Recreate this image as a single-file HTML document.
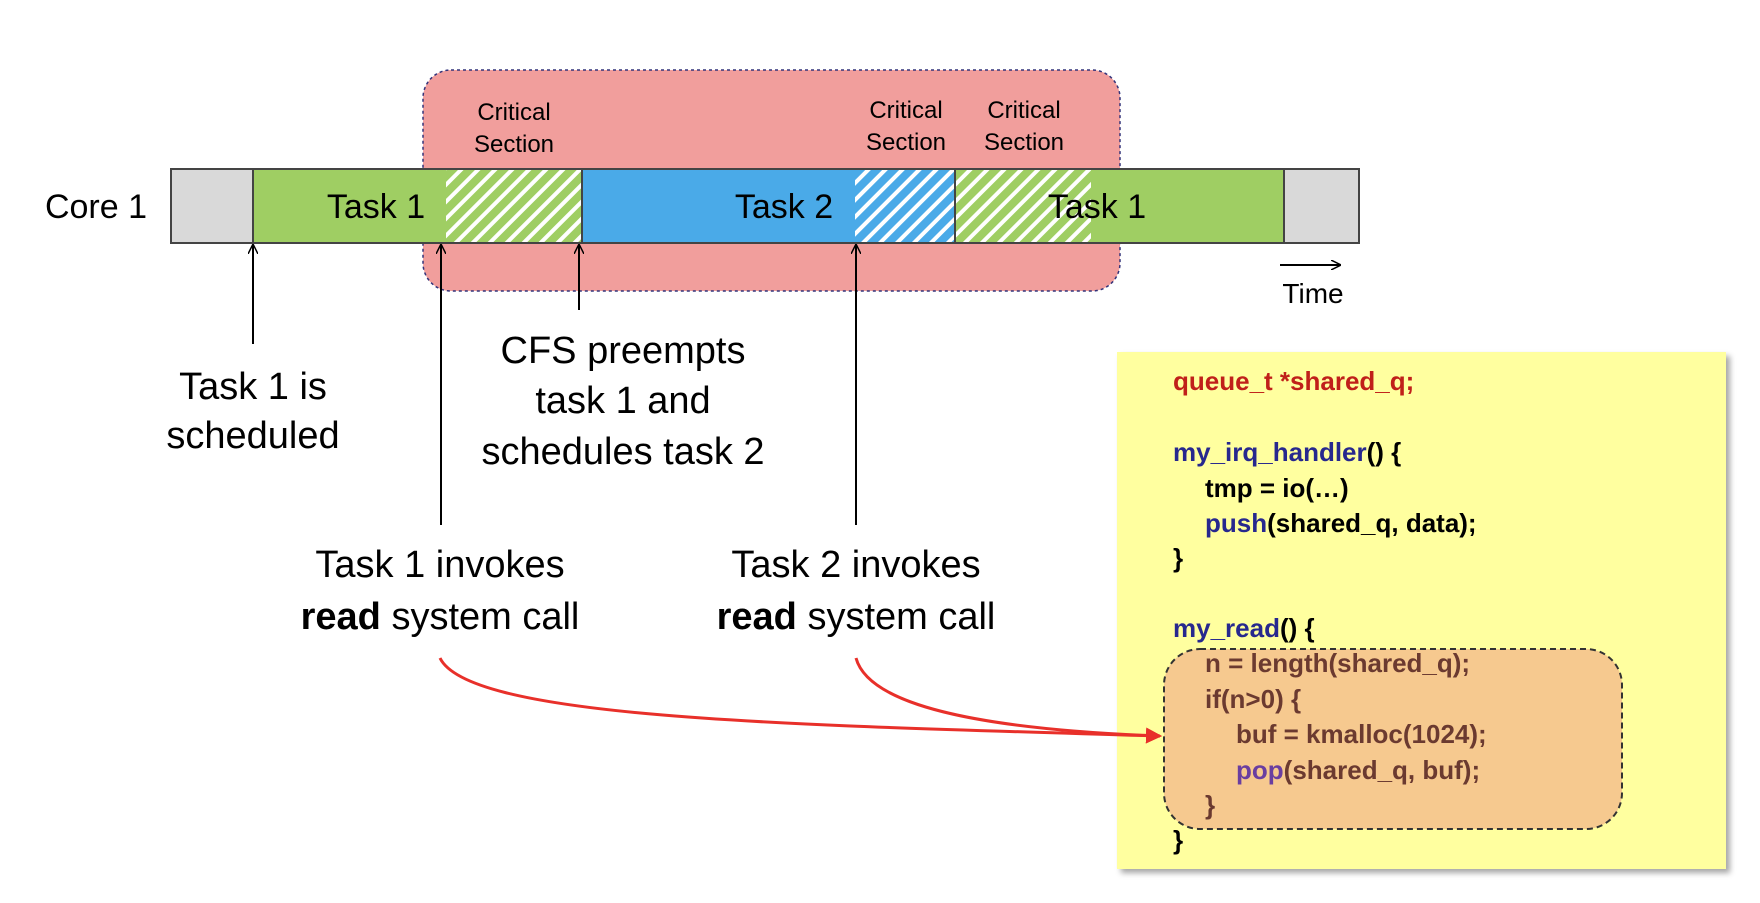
<!DOCTYPE html>
<html><head><meta charset="utf-8"><style>
body{margin:0;width:1760px;height:898px;background:#fff;overflow:hidden}
svg text{font-family:"Liberation Sans",sans-serif}
</style></head><body>
<svg width="1760" height="898" viewBox="0 0 1760 898" xmlns="http://www.w3.org/2000/svg">
<defs>
<pattern id="hg" patternUnits="userSpaceOnUse" width="12" height="12" patternTransform="rotate(45)">
<rect width="12" height="12" fill="#9fce63"/><rect width="4" height="12" fill="#fff"/></pattern>
<pattern id="hb" patternUnits="userSpaceOnUse" width="12" height="12" patternTransform="rotate(45)">
<rect width="12" height="12" fill="#4aaae8"/><rect width="4" height="12" fill="#fff"/></pattern>
<marker id="ah" markerWidth="10" markerHeight="10" refX="9" refY="5" orient="auto" markerUnits="userSpaceOnUse"><path d="M0,0 L10,5 L0,10" fill="none" stroke="#000" stroke-width="1.5"/></marker>
<marker id="rh" markerWidth="16" markerHeight="16" refX="14" refY="8" orient="auto" markerUnits="userSpaceOnUse"><path d="M0,0 L16,8 L0,16z" fill="#e8302a"/></marker>
<filter id="sh"><feDropShadow dx="4" dy="4" stdDeviation="3" flood-opacity="0.35"/></filter>
</defs>
<rect x="423" y="70" width="697" height="221" rx="28" fill="#f19e9c" stroke="#33337a" stroke-width="1.5" stroke-dasharray="3,3"/>
<g font-size="24" fill="#000" text-anchor="middle">
<text x="514" y="120">Critical</text><text x="514" y="152">Section</text>
<text x="906" y="118">Critical</text><text x="906" y="150">Section</text>
<text x="1024" y="118">Critical</text><text x="1024" y="150">Section</text>
</g>
<rect x="171" y="169" width="82" height="74" fill="#d9d9d9"/>
<rect x="253" y="169" width="193" height="74" fill="#9fce63"/>
<rect x="446" y="169" width="136" height="74" fill="url(#hg)"/>
<rect x="582" y="169" width="273" height="74" fill="#4aaae8"/>
<rect x="855" y="169" width="100" height="74" fill="url(#hb)"/>
<rect x="955" y="169" width="136" height="74" fill="url(#hg)"/>
<rect x="1091" y="169" width="193" height="74" fill="#9fce63"/>
<rect x="1284" y="169" width="75" height="74" fill="#d9d9d9"/>
<g stroke="#444" stroke-width="2" fill="none">
<rect x="171" y="169" width="1188" height="74"/>
<line x1="253" y1="169" x2="253" y2="243"/><line x1="582" y1="169" x2="582" y2="243"/>
<line x1="955" y1="169" x2="955" y2="243"/><line x1="1284" y1="169" x2="1284" y2="243"/>
</g>
<g font-size="34" fill="#000" text-anchor="middle">
<text x="376" y="218">Task 1</text><text x="784" y="218">Task 2</text><text x="1097" y="218">Task 1</text>
<text x="96" y="218">Core 1</text>
</g>
<line x1="1280" y1="265" x2="1340" y2="265" stroke="#000" stroke-width="2" marker-end="url(#ah)"/>
<text x="1313" y="303" font-size="28" text-anchor="middle">Time</text>
<g stroke="#000" stroke-width="2" marker-end="url(#ah)">
<line x1="253" y1="344" x2="253" y2="245"/>
<line x1="441" y1="525" x2="441" y2="245"/>
<line x1="579" y1="310" x2="579" y2="245"/>
<line x1="856" y1="525" x2="856" y2="245"/>
</g>
<g font-size="38" fill="#000" text-anchor="middle">
<text x="253" y="399">Task 1 is</text><text x="253" y="448">scheduled</text>
<text x="623" y="363">CFS preempts</text><text x="623" y="413">task 1 and</text><text x="623" y="464">schedules task 2</text>
<text x="440" y="577">Task 1 invokes</text><text x="440" y="629"><tspan font-weight="bold">read</tspan> system call</text>
<text x="856" y="577">Task 2 invokes</text><text x="856" y="629"><tspan font-weight="bold">read</tspan> system call</text>
</g>
<rect x="1117" y="352" width="609" height="517" fill="#ffff9f" filter="url(#sh)"/>
<rect x="1164" y="649" width="458" height="180" rx="36" fill="#f6c98f" stroke="#333" stroke-width="2" stroke-dasharray="6,4"/>
<g fill="none" stroke="#e8302a" stroke-width="3">
<path d="M440,658 C470,720 800,725 1160,736" marker-end="url(#rh)"/>
<path d="M856,658 C870,710 1000,730 1160,736" marker-end="url(#rh)"/>
</g>
<g font-size="26" font-weight="bold">
<text x="1173" y="390" fill="#c0201a">queue_t *shared_q;</text>
<text x="1173" y="461"><tspan fill="#27288e">my_irq_handler</tspan>() {</text>
<text x="1205" y="497">tmp = io(…)</text>
<text x="1205" y="532"><tspan fill="#27288e">push</tspan>(shared_q, data);</text>
<text x="1173" y="567">}</text>
<text x="1173" y="637"><tspan fill="#27288e">my_read</tspan>() {</text>
<text x="1205" y="672" fill="#6b3a30">n = length(shared_q);</text>
<text x="1205" y="708" fill="#6b3a30">if(n&gt;0) {</text>
<text x="1236" y="743" fill="#6b3a30">buf = kmalloc(1024);</text>
<text x="1236" y="779" fill="#6b3a30"><tspan fill="#6a3ea0">pop</tspan>(shared_q, buf);</text>
<text x="1205" y="814" fill="#6b3a30">}</text>
<text x="1173" y="849">}</text>
</g>
</svg>
</body></html>
